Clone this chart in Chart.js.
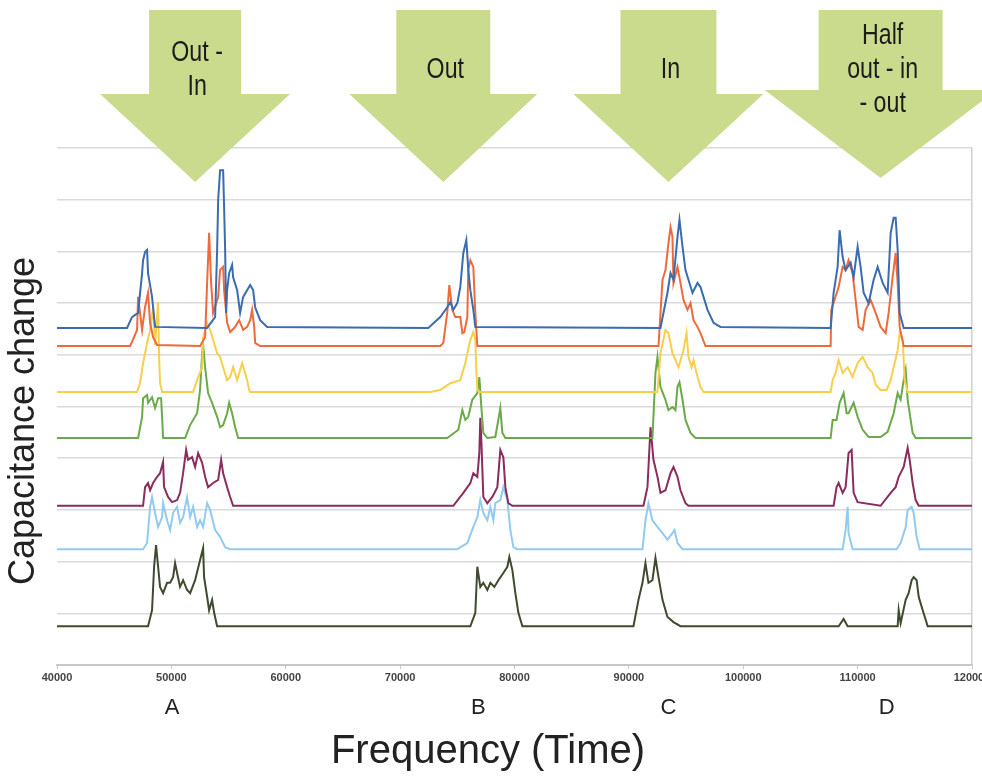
<!DOCTYPE html>
<html>
<head>
<meta charset="utf-8">
<script src="https://cdn.jsdelivr.net/npm/chart.js@4/dist/chart.umd.min.js"></script>
<style>
  html, body { margin: 0; padding: 0; background: #fff; overflow: hidden; }
  #wrap { width: 1000px; height: 778px; }
</style>
</head>
<body>
<div id="wrap"><canvas id="capChart" width="1000" height="778"></canvas></div>
<script>
// readings taken off the figure: [frequency, capacitance (offset per trace)]
const blueTrace = [[40000,6.52],[46125,6.52],[46560,6.73],[47090,6.81],[47440,7.58],[47525,7.83],[47700,7.99],[47875,8.03],[47960,7.58],[48310,7.12],[48575,6.54],
  [53125,6.52],[53825,6.73],[54000,8.03],[54090,8.99],[54260,9.57],[54525,9.57],[54610,8.86],[54700,8.03],[54790,6.81],[54875,7.25],[55050,7.58],[55310,7.74],[55400,7.50],[55750,7.25],[56010,6.81],[56275,7.12],[56890,7.35],[57150,7.25],[57325,6.92],[57760,6.67],[58375,6.54],
  [72460,6.52],[73510,6.73],[74125,6.92],[74390,7.02],[74650,6.87],[75000,7.00],[75260,7.31],[75525,7.97],[75790,8.22],[75960,7.64],[76140,7.25],[76400,6.87],[76575,6.54],
  [92760,6.52],[93375,7.20],[93640,7.58],[93900,7.45],[94250,8.28],[94425,8.61],[94690,8.09],[94950,7.64],[95210,7.45],[95560,7.20],[96000,7.39],[96260,7.31],[96525,7.12],[96875,6.87],[97400,6.62],[98010,6.54],
  [107640,6.52],[107900,7.20],[108250,7.70],[108425,8.41],[108690,7.89],[108950,7.64],[109390,7.78],[109650,7.50],[110000,8.09],[110260,7.70],[110525,7.20],[110960,7.00],[111400,7.45],[111750,7.70],[112190,7.39],[112625,7.20],[112890,8.36],[113150,8.65],[113325,8.65],[113500,8.03],[113675,6.81],[114025,6.52],[120000,6.52]];

const orangeTrace = [[40000,6.17],[46390,6.17],[46560,6.25],[47000,6.48],[47090,7.12],[47440,6.48],[47700,6.92],[47960,7.20],[48140,6.62],[48400,6.34],[48750,6.19],
  [52510,6.17],[52950,6.34],[53125,7.39],[53300,8.36],[53475,7.39],[53650,6.81],[54090,7.12],[54260,7.64],[54525,7.70],[54610,7.25],[54875,6.62],[55140,6.44],[55575,6.54],[55925,6.67],[56275,6.48],[56625,6.54],[56890,6.67],[57060,6.87],[57240,6.54],[57325,6.23],[57760,6.17],
  [73510,6.17],[73775,6.23],[74125,6.83],[74300,7.35],[74560,6.87],[74825,6.73],[75260,6.73],[75440,6.42],[75610,6.44],[75875,6.73],[75960,7.64],[76140,7.83],[76400,7.70],[76575,6.81],[76750,6.17],
  [92590,6.17],[92940,7.45],[93200,7.64],[93460,8.16],[93640,8.47],[93810,8.28],[93900,7.39],[94250,7.70],[94510,7.39],[94775,7.06],[95125,6.87],[95390,7.00],[95650,6.67],[96000,6.54],[96260,6.42],[96700,6.17],
  [107640,6.17],[107700,6.87],[108340,7.31],[108690,7.70],[108950,7.64],[109210,7.83],[109560,7.58],[109825,7.06],[110090,6.54],[110440,6.48],[110700,6.87],[111140,7.06],[111575,6.81],[112010,6.54],[112450,6.42],[112710,6.81],[113060,7.50],[113325,7.97],[113500,7.39],[113675,6.54],[114025,6.17],[120000,6.17]];

const yellowTrace = [[40000,5.28],[47000,5.28],[47260,5.45],[47525,5.84],[47875,6.23],[48140,6.48],[48400,6.92],[48575,6.19],[48840,7.02],[48925,5.96],[49010,5.45],[49190,5.28],
  [51900,5.28],[52250,5.51],[52690,5.76],[52775,6.34],[53125,6.62],[53390,6.48],[53650,6.29],[54000,6.03],[54260,5.96],[54525,5.76],[54875,5.51],[55140,5.57],[55400,5.76],[55750,5.51],[56190,5.84],[56360,5.71],[56625,5.51],[56800,5.32],[56890,5.28],
  [72640,5.28],[73510,5.32],[74390,5.45],[75260,5.51],[75700,5.84],[75875,6.03],[76140,6.29],[76400,6.44],[76575,6.29],[76660,5.71],[76750,5.32],[76925,5.28],
  [92500,5.28],[92760,6.03],[93200,6.48],[93460,6.42],[93810,6.03],[94075,5.90],[94340,5.76],[94775,6.09],[95040,6.42],[95210,5.96],[95475,5.76],[95650,5.90],[96000,5.57],[96260,5.38],[96525,5.28],
  [107640,5.28],[107815,5.51],[108075,5.65],[108340,5.90],[108690,5.65],[109125,5.76],[109560,5.57],[110000,5.84],[110440,5.96],[110875,5.76],[111310,5.65],[111575,5.42],[112010,5.32],[112540,5.32],[112890,5.51],[113150,5.76],[113500,6.09],[113675,6.42],[113940,6.29],[114110,5.51],[114375,5.28],[120000,5.28]];

const greenTrace = [[40000,4.39],[47090,4.39],[47440,4.80],[47525,5.16],[47875,5.22],[47960,5.07],[48310,5.18],[48575,4.97],[48840,5.16],[49100,5.16],[49190,4.80],[49275,4.39],
  [51200,4.39],[51640,4.64],[52250,4.87],[52510,5.32],[52690,6.03],[52775,6.19],[52950,5.76],[53210,5.26],[53560,5.07],[54000,4.80],[54260,4.60],[54525,4.64],[54875,4.87],[55050,5.07],[55310,4.87],[55575,4.60],[55840,4.39],
  [74125,4.39],[75090,4.55],[75440,4.93],[75700,4.74],[75960,4.80],[76310,5.13],[76750,5.26],[76925,5.57],[77100,4.99],[77275,4.49],[77625,4.39],[78325,4.41],[78760,4.97],[78940,4.49],[79200,4.39],
  [92060,4.39],[92325,5.65],[92500,5.96],[92760,5.38],[93200,5.13],[93460,4.93],[93810,4.99],[94075,4.93],[94250,5.38],[94425,5.47],[94690,5.13],[94950,4.74],[95390,4.49],[95825,4.39],
  [107640,4.39],[107815,4.74],[108160,4.74],[108425,5.07],[108775,5.26],[109040,4.87],[109210,4.87],[109650,5.07],[110000,4.80],[110440,4.55],[110960,4.41],[112010,4.41],[112625,4.51],[113150,4.87],[113500,5.26],[113760,5.13],[114025,5.51],[114200,5.71],[114375,5.13],[114810,4.49],[115075,4.39],[120000,4.39]];

const purpleTrace = [[40000,3.08],[47525,3.08],[47700,3.44],[47960,3.52],[48140,3.38],[48400,3.52],[48750,3.64],[49010,3.71],[49275,3.93],[49360,3.44],[49710,3.25],[50060,3.15],[50500,3.19],[50760,3.33],[51025,3.71],[51290,4.16],[51460,3.97],[51810,4.02],[52075,3.83],[52340,4.10],[52690,3.91],[52950,3.64],[53210,3.44],[53650,3.52],[54090,3.58],[54350,3.97],[54525,3.71],[54875,3.44],[55140,3.25],[55400,3.08],
  [74650,3.08],[75525,3.33],[76140,3.52],[76400,3.71],[76750,3.64],[76925,4.10],[77010,4.78],[77100,4.35],[77275,3.25],[77625,3.13],[78060,3.25],[78500,3.44],[78760,4.16],[79025,4.02],[79200,3.44],[79460,3.13],[79810,3.08],
  [91275,3.08],[91625,3.44],[91890,4.60],[92150,3.97],[92500,3.64],[92760,3.33],[93200,3.38],[93640,3.71],[93900,3.83],[94250,3.64],[94510,3.38],[94950,3.13],[95210,3.08],
  [107900,3.08],[108160,3.44],[108340,3.52],[108690,3.33],[108950,3.44],[109210,4.10],[109475,4.16],[109650,3.33],[110000,3.15],[112010,3.08],[112890,3.33],[113325,3.44],[113590,3.64],[114025,3.83],[114375,4.20],[114550,3.97],[114810,3.52],[115075,3.19],[115340,3.08],[120000,3.08]];

const skyTrace = [[40000,2.24],[47525,2.24],[47875,2.36],[48140,3.06],[48310,3.25],[48575,2.94],[48840,2.67],[49190,2.86],[49275,3.13],[49625,2.80],[49890,2.61],[50150,2.94],[50500,3.06],[50760,2.75],[51025,2.86],[51375,3.25],[51640,2.86],[51900,3.06],[52250,2.67],[52510,2.80],[52775,2.67],[53125,3.13],[53390,3.00],[53825,2.61],[54260,2.48],[54700,2.28],[55140,2.24],
  [75000,2.24],[75875,2.36],[76400,2.67],[76750,2.86],[77010,3.19],[77275,2.94],[77625,2.80],[77890,3.06],[78150,2.80],[78325,3.13],[78760,3.19],[79025,3.44],[79375,3.19],[79640,2.61],[79900,2.28],[80250,2.24],
  [91190,2.24],[91450,2.80],[91710,3.13],[92060,2.80],[92500,2.67],[92940,2.55],[93375,2.42],[93810,2.55],[93990,2.61],[94250,2.36],[94690,2.24],
  [108690,2.24],[108950,2.61],[109125,3.06],[109210,2.55],[109560,2.24],[113400,2.24],[113760,2.36],[114200,2.67],[114375,3.00],[114725,3.06],[114900,2.94],[115160,2.48],[115425,2.24],[120000,2.24]];

const oliveTrace = [[40000,0.75],[47960,0.75],[48310,1.06],[48490,1.90],[48660,2.32],[48840,1.90],[49010,1.51],[49275,1.39],[49625,1.59],[49890,1.59],[50150,1.70],[50325,1.97],[50500,1.78],[50760,1.51],[51025,1.64],[51375,1.45],[51640,1.39],[52075,1.64],[52510,2.03],[52775,2.26],[52860,1.70],[53125,1.32],[53300,1.06],[53560,1.26],[53740,1.01],[54000,0.75],
  [76140,0.75],[76575,1.01],[76750,1.90],[77010,1.51],[77275,1.59],[77625,1.45],[77890,1.59],[78240,1.51],[78590,1.64],[79025,1.78],[79375,1.90],[79550,2.09],[79810,1.84],[80075,1.39],[80340,1.01],[80690,0.75],
  [90400,0.75],[90840,1.26],[91190,1.59],[91450,1.97],[91710,1.59],[92060,1.64],[92325,2.07],[92590,1.70],[92940,1.26],[93375,0.93],[93900,0.83],[94510,0.75],
  [108340,0.75],[108775,0.89],[109125,0.75],[113500,0.75],[113590,1.06],[113760,0.81],[114200,1.26],[114460,1.39],[114725,1.64],[114900,1.70],[115160,1.64],[115340,1.32],[115690,1.06],[116125,0.75],[120000,0.75]];

// annotations
const arrowFreq = [52075, 73775, 93460, 112010];
const arrowText = [['Out -', 'In'], ['Out'], ['In'], ['Half', 'out - in', '- out']];
const letterFreq = [50060, 76840, 93460, 112540];
const letterText = ['A', 'B', 'C', 'D'];
const xTitle = 'Frequency (Time)';
const yTitle = 'Capacitance change';

const traces = [blueTrace, orangeTrace, yellowTrace, greenTrace, purpleTrace, skyTrace, oliveTrace];
const traceColors = ['#3a6cb0', '#ee6a3c', '#f6d04c', '#6aaa48', '#8b2c5c', '#92cbef', '#3f4a2e'];

// arrow shapes in pixels: shaft half-width, head half-width, tip height
const arrowShaft = [46, 47, 48, 62];
const arrowHead = [95, 94, 95, 116];
const arrowTip = [182, 182, 182, 178];

const overlayPlugin = {
    id: 'overlay',
    beforeDatasetsDraw(chart) {
        const ctx = chart.ctx;
        const xs = chart.scales.x;
        ctx.save();
        arrowFreq.forEach((f, i) => {
            const cx = xs.getPixelForValue(f);
            const tip = arrowTip[i];
            const headTop = tip - 88;
            const top = 10;
            ctx.fillStyle = '#cbdb8e';
            ctx.beginPath();
            ctx.moveTo(cx - arrowShaft[i], top);
            ctx.lineTo(cx + arrowShaft[i], top);
            ctx.lineTo(cx + arrowShaft[i], headTop);
            ctx.lineTo(cx + arrowHead[i], headTop);
            ctx.lineTo(cx, tip);
            ctx.lineTo(cx - arrowHead[i], headTop);
            ctx.lineTo(cx - arrowShaft[i], headTop);
            ctx.closePath();
            ctx.fill();

            // narrow lettering, like the original
            ctx.fillStyle = '#1c1c1c';
            ctx.font = "29px 'Liberation Sans', sans-serif";
            ctx.textAlign = 'center';
            ctx.textBaseline = 'middle';
            const lines = arrowText[i];
            const lh = 34;
            const y0 = 70 - (lines.length - 1) * lh / 2;
            lines.forEach((t, k) => {
                ctx.save();
                ctx.translate(cx + 2, y0 + k * lh);
                ctx.scale(0.8, 1);
                ctx.fillText(t, 0, 0);
                ctx.restore();
            });
        });
        ctx.restore();
    },
    afterDraw(chart) {
        const ctx = chart.ctx;
        const xs = chart.scales.x;
        ctx.save();
        ctx.fillStyle = '#222';
        ctx.textAlign = 'center';
        ctx.textBaseline = 'middle';
        ctx.font = "22px 'Liberation Sans', sans-serif";
        letterFreq.forEach((f, i) => {
            ctx.fillText(letterText[i], xs.getPixelForValue(f), 708);
        });
        ctx.font = "40px 'Liberation Sans', sans-serif";
        ctx.fillText(xTitle, 488, 752);
        ctx.translate(24, 421);
        ctx.rotate(-Math.PI / 2);
        ctx.font = "36px 'Liberation Sans', sans-serif";
        ctx.fillText(yTitle, 0, 0);
        ctx.restore();
    }
};

new Chart(document.getElementById('capChart'), {
    type: 'line',
    data: {
        datasets: traces.map((t, i) => ({
            data: t.map(p => ({ x: p[0], y: p[1] })),
            borderColor: traceColors[i],
            borderWidth: 2,
            pointRadius: 0,
            tension: 0,
            fill: false
        }))
    },
    options: {
        responsive: false,
        animation: false,
        devicePixelRatio: 1,
        layout: { padding: { top: 148, left: 0, right: 0, bottom: 0 } },
        plugins: {
            legend: { display: false },
            tooltip: { enabled: false }
        },
        scales: {
            x: {
                type: 'linear',
                min: 40000,
                max: 120000,
                afterFit: s => { s.height = 113; },
                ticks: {
                    stepSize: 10000,
                    autoSkip: false,
                    maxRotation: 0,
                    padding: 2,
                    color: '#444',
                    font: { family: 'Liberation Sans', size: 11, weight: 'bold' },
                    callback: v => String(v)
                },
                grid: { drawOnChartArea: false, drawTicks: true, tickLength: 4, color: '#c8c8c8' },
                border: { color: '#c8c8c8', width: 2 }
            },
            y: {
                min: 0,
                max: 10,
                afterFit: s => { s.width = 57; },
                ticks: { stepSize: 1, display: false },
                grid: { color: '#dadada', lineWidth: 1.5, drawTicks: false },
                border: { display: false }
            },
            yRight: {
                position: 'right',
                min: 0,
                max: 10,
                afterFit: s => { s.width = 28; },
                ticks: { display: false },
                grid: { drawOnChartArea: false, drawTicks: false },
                border: { color: '#d0d0d0', width: 1.5 }
            }
        }
    },
    plugins: [overlayPlugin]
});
</script>
</body>
</html>
